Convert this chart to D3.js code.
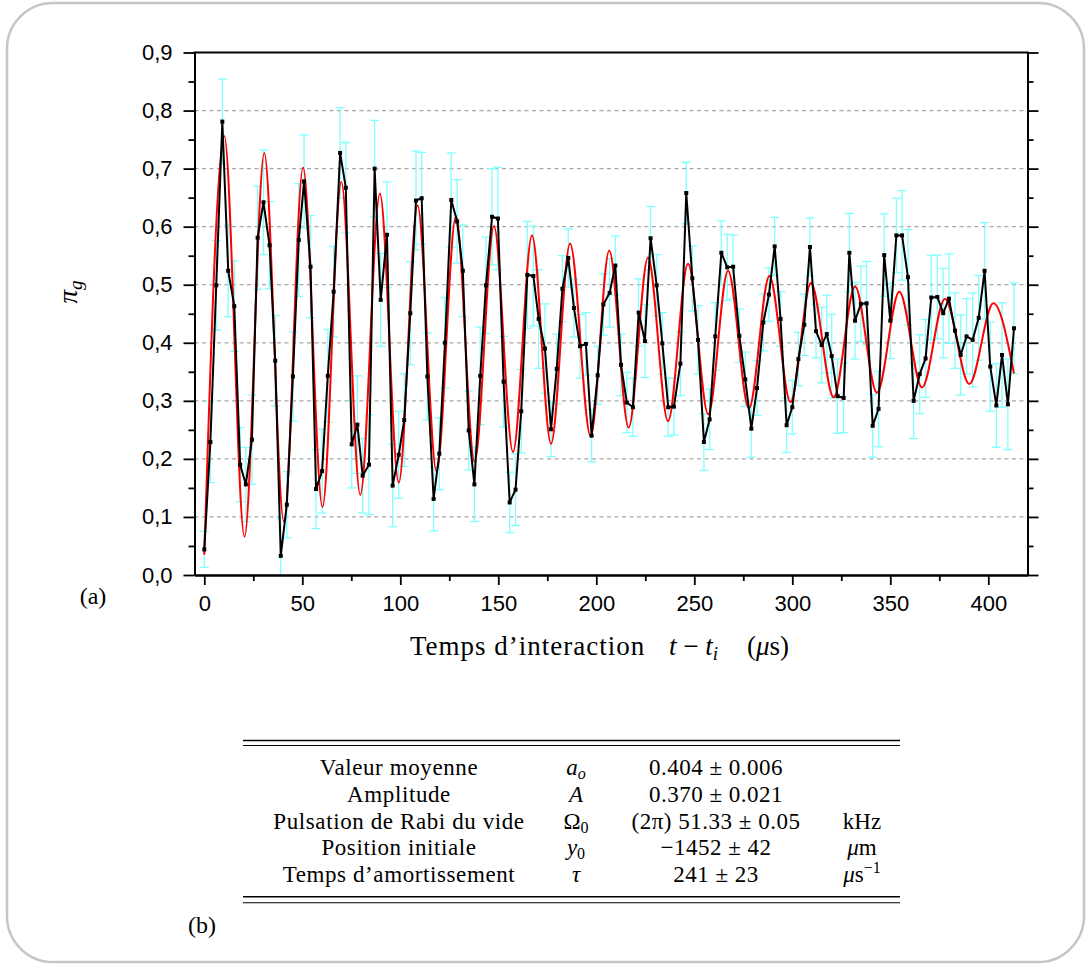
<!DOCTYPE html>
<html><head><meta charset="utf-8">
<script src="https://cdn.jsdelivr.net/npm/d3@7"></script>
<style>
body{margin:0;background:#fff}
svg{display:block}
.tick text{font-family:"Liberation Sans",Arial,sans-serif;font-size:22px;fill:#000}
.serif{font-family:"Liberation Serif","Times New Roman",serif;fill:#000}
</style>
</head><body>
<svg id="chart" width="1086" height="965"></svg>
<script>
// ---------- data ----------
const times = [0.0,3.1,6.1,9.2,12.2,15.3,18.3,21.2,24.3,27.2,30.2,33.3,36.2,39.0,42.1,45.2,48.2,50.9,54.2,57.0,
 60.1,63.0,66.0,69.3,72.2,75.2,78.1,80.8,84.0,86.9,90.0,93.2,96.1,99.2,102.0,105.1,108.0,110.9,113.8,117.0,
 119.9,122.8,126.0,129.0,131.9,134.9,137.8,140.8,143.7,146.8,149.8,152.7,155.8,158.8,161.7,164.8,167.9,170.6,173.8,176.9,
 179.8,182.7,185.7,188.6,191.7,194.7,197.6,200.7,203.6,206.8,209.7,212.6,215.6,218.7,221.6,224.8,227.7,230.8,233.7,236.7,
 239.6,242.9,245.9,249.0,251.9,254.9,257.8,260.7,263.8,266.8,269.8,273.0,276.0,279.1,282.0,285.2,288.1,291.0,294.0,297.1,
 300.0,303.1,306.1,309.0,312.1,315.0,317.6,320.1,323.1,326.2,329.1,332.0,335.0,337.9,341.0,344.0,346.9,350.0,353.1,356.0,
 359.0,361.9,365.0,368.0,370.9,374.0,377.0,379.9,383.0,385.9,388.9,392.0,395.1,398.1,401.0,404.1,407.0,410.0,413.1];
const piG = [0.044,0.229,0.499,0.781,0.524,0.463,0.190,0.156,0.233,0.581,0.642,0.568,0.369,0.033,0.121,0.342,0.577,0.678,0.531,0.148,
 0.179,0.343,0.488,0.727,0.667,0.225,0.259,0.171,0.190,0.700,0.474,0.586,0.154,0.207,0.267,0.451,0.645,0.649,0.342,0.131,
 0.209,0.400,0.646,0.609,0.524,0.249,0.156,0.343,0.499,0.617,0.614,0.333,0.125,0.147,0.282,0.517,0.515,0.441,0.390,0.251,
 0.355,0.493,0.546,0.460,0.394,0.398,0.240,0.344,0.466,0.486,0.533,0.362,0.297,0.289,0.452,0.403,0.580,0.499,0.399,0.289,
 0.290,0.364,0.658,0.511,0.405,0.229,0.268,0.411,0.555,0.530,0.531,0.412,0.337,0.252,0.322,0.435,0.483,0.566,0.441,0.258,
 0.289,0.372,0.431,0.565,0.420,0.396,0.415,0.377,0.308,0.305,0.555,0.438,0.467,0.468,0.257,0.286,0.551,0.438,0.585,0.585,
 0.513,0.300,0.346,0.373,0.478,0.479,0.451,0.476,0.421,0.379,0.411,0.405,0.443,0.524,0.359,0.292,0.379,0.294,0.425];
const errs = [0.031,0.070,0.077,0.073,0.079,0.078,0.064,0.064,0.077,0.089,0.090,0.075,0.078,0.065,0.057,0.077,0.097,0.080,0.088,0.068,
 0.072,0.080,0.078,0.078,0.078,0.075,0.084,0.064,0.086,0.083,0.080,0.091,0.071,0.075,0.080,0.089,0.085,0.079,0.075,0.055,
 0.062,0.078,0.081,0.072,0.079,0.068,0.064,0.084,0.083,0.083,0.088,0.078,0.052,0.062,0.072,0.092,0.086,0.085,0.077,0.047,
 0.060,0.057,0.050,0.050,0.055,0.054,0.045,0.050,0.053,0.059,0.051,0.053,0.052,0.050,0.058,0.063,0.055,0.053,0.053,0.050,
 0.049,0.055,0.053,0.056,0.059,0.049,0.052,0.058,0.055,0.057,0.055,0.046,0.047,0.049,0.047,0.049,0.046,0.050,0.047,0.047,
 0.046,0.046,0.053,0.050,0.046,0.065,0.067,0.072,0.064,0.060,0.068,0.066,0.065,0.072,0.054,0.065,0.071,0.065,0.064,0.077,
 0.082,0.065,0.068,0.067,0.073,0.072,0.077,0.077,0.065,0.069,0.065,0.081,0.073,0.083,0.077,0.072,0.090,0.078,0.078];
// fitted curve: start, successive extrema, end
const fitT = [0,10.2,20.5,30.6,40.6,50.4,60.3,69.9,79.6,89.6,99.2,108.8,118.5,128.4,137.9,147.8,157.5,167.2,176.9,186.6,
 197.1,206.6,216.5,226.4,236.6,246.8,257.1,267.2,277.9,288.3,299.1,309.5,321.1,332.0,343.2,354.6,366.2,377.9,390.3,402.6,413.1];
const fitY = [0.035,0.756,0.066,0.727,0.092,0.702,0.117,0.677,0.138,0.657,0.159,0.637,0.178,0.618,0.195,0.601,0.212,0.585,0.226,0.571,
 0.239,0.559,0.254,0.547,0.265,0.536,0.277,0.524,0.287,0.515,0.298,0.503,0.306,0.497,0.314,0.488,0.323,0.476,0.329,0.468,0.347];
const yTicks = [0,0.1,0.2,0.3,0.4,0.5,0.6,0.7,0.8,0.9];
const yTickLabels = ["0,0","0,1","0,2","0,3","0,4","0,5","0,6","0,7","0,8","0,9"];
const yMinor = [0.05,0.15,0.25,0.35,0.45,0.55,0.65,0.75,0.85];
const yGrid = [0.1,0.2,0.3,0.4,0.5,0.6,0.7,0.8];
const xTicks = [0,50,100,150,200,250,300,350,400];
const xMinor = [25,75,125,175,225,275,325,375];
const paramNames = ["Valeur moyenne","Amplitude","Pulsation de Rabi du vide","Position initiale","Temps d\u2019amortissement"];
const paramSymbols = ["a","A","\u03A9","y","\u03C4"];
const paramSymbolSubs = ["o","","0","0",""];
const paramValues = ["0.404 \u00B1 0.006","0.370 \u00B1 0.021","(2\u03C0) 51.33 \u00B1 0.05","\u22121452 \u00B1 42","241 \u00B1 23"];
const paramUnits = ["","","kHz","\u03BCm","\u03BCs"];
const paramUnitSup = ["","","","","\u22121"];

// ---------- layout ----------
const svg = d3.select("#chart");
const L = 194.5, R = 1027.5, T = 52.5, B = 575;
const x = d3.scaleLinear().domain([-5, 420]).range([L, R]);
const y = d3.scaleLinear().domain([0, 0.9]).range([B, T]);

// frame
svg.append("rect").attr("x", 7).attr("y", 3).attr("width", 1077).attr("height", 959)
  .attr("rx", 46).attr("fill", "#fff").attr("stroke", "#c6c6c6").attr("stroke-width", 2.5);

// grid
svg.append("g").selectAll("line").data(yGrid).join("line")
  .attr("x1", L).attr("x2", R).attr("y1", d => y(d)).attr("y2", d => y(d))
  .attr("stroke", "#a8a8a8").attr("stroke-width", 1.3).attr("stroke-dasharray", "4,3.5");

svg.append("clipPath").attr("id", "clip").append("rect")
  .attr("x", L).attr("y", T).attr("width", R - L).attr("height", B - T);
const plot = svg.append("g").attr("clip-path", "url(#clip)");
const pts = times.map((t, i) => ({t, v: piG[i], e: errs[i]}));

// error bars
const eb = plot.append("g").attr("stroke", "#80ffff").attr("stroke-width", 1.3).attr("fill", "none");
eb.selectAll("line.v").data(pts).join("line").attr("class", "v")
  .attr("x1", d => x(d.t)).attr("x2", d => x(d.t)).attr("y1", d => y(d.v - d.e)).attr("y2", d => y(d.v + d.e));
eb.selectAll("line.t").data(pts).join("line").attr("class", "t")
  .attr("x1", d => x(d.t) - 4.5).attr("x2", d => x(d.t) + 4.5).attr("y1", d => y(d.v + d.e)).attr("y2", d => y(d.v + d.e));
eb.selectAll("line.b").data(pts).join("line").attr("class", "b")
  .attr("x1", d => x(d.t) - 4.5).attr("x2", d => x(d.t) + 4.5).attr("y1", d => y(d.v - d.e)).attr("y2", d => y(d.v - d.e));

// fit curve
const fit = fitT.map((t, i) => [t, fitY[i]]);
plot.append("path").datum(fit)
  .attr("d", d3.line().x(d => x(d[0])).y(d => y(d[1])).curve(d3.curveMonotoneX))
  .attr("fill", "none").attr("stroke", "#ff0000").attr("stroke-width", 2);

// data line + markers
plot.append("path").datum(pts)
  .attr("d", d3.line().x(d => x(d.t)).y(d => y(d.v)))
  .attr("fill", "none").attr("stroke", "#000").attr("stroke-width", 2).attr("stroke-linejoin", "round");
plot.append("g").selectAll("rect").data(pts).join("rect")
  .attr("x", d => x(d.t) - 2).attr("y", d => y(d.v) - 2).attr("width", 4).attr("height", 4).attr("fill", "#000");

// axes
function styleAxis(g) {
  g.select(".domain").attr("stroke-width", 2).attr("stroke", "#000");
  g.selectAll(".tick line").attr("stroke-width", 1.8).attr("stroke", "#000");
}
svg.append("g").attr("transform", `translate(${L},0)`)
  .call(d3.axisLeft(y).tickValues(yMinor).tickSize(6).tickFormat("").tickSizeOuter(0)).call(styleAxis);
svg.append("g").attr("transform", `translate(${L},0)`)
  .call(d3.axisLeft(y).tickValues(yTicks).tickSize(11).tickPadding(11).tickSizeOuter(0)
    .tickFormat((d, i) => yTickLabels[i])).call(styleAxis);
svg.append("g").attr("transform", `translate(${R},0)`)
  .call(d3.axisRight(y).tickValues(yMinor).tickSize(6).tickFormat("").tickSizeOuter(0)).call(styleAxis);
svg.append("g").attr("transform", `translate(${R},0)`)
  .call(d3.axisRight(y).tickValues(yTicks).tickSize(11).tickFormat("").tickSizeOuter(0)).call(styleAxis);
svg.append("g").attr("transform", `translate(0,${B})`)
  .call(d3.axisBottom(x).tickValues(xMinor).tickSize(6).tickFormat("").tickSizeOuter(0)).call(styleAxis);
svg.append("g").attr("transform", `translate(0,${B})`)
  .call(d3.axisBottom(x).tickValues(xTicks).tickSize(10).tickPadding(10).tickSizeOuter(0)
    .tickFormat(d3.format("d"))).call(styleAxis);
svg.append("line").attr("x1", L - 1).attr("x2", R + 1).attr("y1", T).attr("y2", T)
  .attr("stroke", "#000").attr("stroke-width", 2);
svg.selectAll(".tick text").style("font-family", "'Liberation Sans',Arial,sans-serif").style("font-size", "22px");

// y title  pi_g
const yt = svg.append("text").attr("class", "serif")
  .attr("transform", "translate(77,292) rotate(-90)").attr("text-anchor", "middle")
  .style("font-size", "27px");
yt.append("tspan").style("font-style", "italic").text("\u03C0");
yt.append("tspan").style("font-style", "italic").style("font-size", "19px").attr("dy", 5).text("g");

// x title
const xt = svg.append("g").attr("class", "serif").style("font-size", "27px");
xt.append("text").attr("class", "serif").attr("x", 410).attr("y", 655)
  .style("font-size", "27px").style("letter-spacing", "1px").text("Temps d\u2019interaction");
const xm = xt.append("text").attr("class", "serif").attr("x", 669).attr("y", 655).style("font-size", "27px");
xm.append("tspan").style("font-style", "italic").text("t");
xm.append("tspan").text(" \u2212 ");
xm.append("tspan").style("font-style", "italic").text("t");
xm.append("tspan").style("font-style", "italic").style("font-size", "19px").attr("dy", 5).text("i");
const xu = xt.append("text").attr("class", "serif").attr("x", 747).attr("y", 655).style("font-size", "27px");
xu.append("tspan").text("(");
xu.append("tspan").style("font-style", "italic").text("\u03BC");
xu.append("tspan").text("s)");

// panel labels
svg.append("text").attr("class", "serif").attr("x", 93).attr("y", 604).attr("text-anchor", "middle")
  .style("font-size", "24px").text("(a)");
svg.append("text").attr("class", "serif").attr("x", 202).attr("y", 933).attr("text-anchor", "middle")
  .style("font-size", "24px").text("(b)");

// ---------- table ----------
const tb = svg.append("g");
[[740.5, 1.5], [745.5, 1.1], [896.7, 1.5], [902.7, 1.1]].forEach(([yy, w]) => {
  tb.append("line").attr("x1", 243).attr("x2", 900).attr("y1", yy).attr("y2", yy)
    .attr("stroke", "#000").attr("stroke-width", w);
});
const rowY = d3.scalePoint().domain(d3.range(paramNames.length)).range([775, 882]);
paramNames.forEach((name, i) => {
  const yy = rowY(i);
  tb.append("text").attr("class", "serif").attr("x", 399).attr("y", yy).attr("text-anchor", "middle")
    .style("font-size", "23px").style("letter-spacing", "0.6px").text(name);
  const s = tb.append("text").attr("class", "serif").attr("x", 576).attr("y", yy).attr("text-anchor", "middle")
    .style("font-size", "23px");
  s.append("tspan").style("font-style", paramSymbols[i] === "\u03A9" ? "normal" : "italic").text(paramSymbols[i]);
  if (paramSymbolSubs[i]) s.append("tspan").style("font-size", "16px").attr("dy", 4)
    .style("font-style", paramSymbolSubs[i] === "o" ? "italic" : "normal").text(paramSymbolSubs[i]);
  tb.append("text").attr("class", "serif").attr("x", 716).attr("y", yy).attr("text-anchor", "middle")
    .style("font-size", "23px").style("letter-spacing", "0.5px").text(paramValues[i]);
  const u = tb.append("text").attr("class", "serif").attr("x", 862).attr("y", yy).attr("text-anchor", "middle")
    .style("font-size", "23px");
  const un = paramUnits[i];
  if (un.startsWith("\u03BC")) {
    u.append("tspan").style("font-style", "italic").text("\u03BC");
    u.append("tspan").text(un.slice(1));
  } else u.append("tspan").text(un);
  if (paramUnitSup[i]) u.append("tspan").style("font-size", "16px").attr("dy", -9).text(paramUnitSup[i]);
});
</script>
</body></html>
